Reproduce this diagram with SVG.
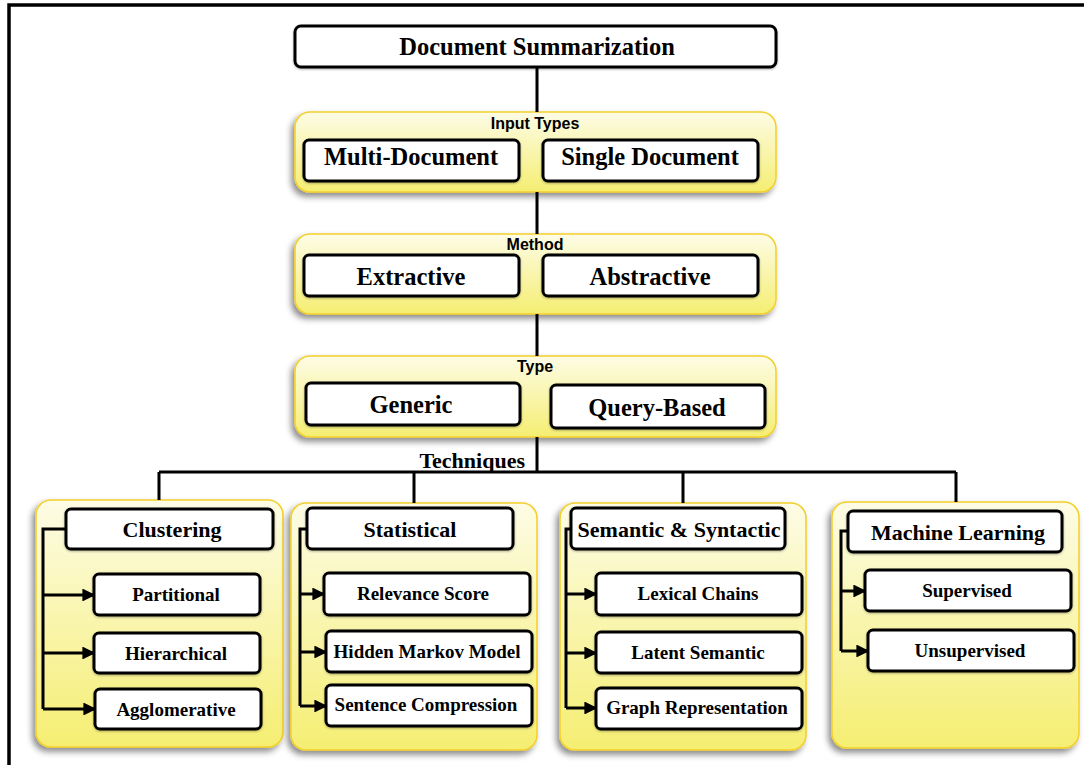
<svg xmlns="http://www.w3.org/2000/svg" width="1084" height="765" viewBox="0 0 1084 765">
<defs>
<linearGradient id="yg" x1="0" y1="0" x2="0" y2="1">
<stop offset="0" stop-color="#fdfce6"/>
<stop offset="1" stop-color="#f5ee72"/>
</linearGradient>
<filter id="sh" x="-10%" y="-10%" width="120%" height="125%">
<feDropShadow dx="-3" dy="4" stdDeviation="3" flood-color="#000" flood-opacity="0.45"/>
</filter>
<filter id="bs" x="-10%" y="-10%" width="120%" height="130%">
<feDropShadow dx="0" dy="1" stdDeviation="1" flood-color="#000" flood-opacity="0.3"/>
</filter>
<marker id="ar" viewBox="0 0 10 10" refX="9" refY="5" markerWidth="4.3" markerHeight="4.3" orient="auto" markerUnits="strokeWidth">
<path d="M0,0 L10,5 L0,10 z" fill="#000"/>
</marker>
</defs>
<style>
.panel{fill:url(#yg);stroke:#f3cf2a;stroke-width:1.5;filter:url(#sh)}
.box{fill:#fff;stroke:#000;stroke-width:3;filter:url(#bs)}
.t{font-family:"Liberation Serif",serif;font-weight:bold;fill:#000;text-anchor:middle}
.big{font-size:24.5px}
.hd{font-size:22px}
.sm{font-size:19px}
.lb{font-family:"Liberation Sans",Arial,sans-serif;font-weight:bold;font-size:16px;text-anchor:middle;fill:#000}
.ln{fill:none;stroke:#000;stroke-width:3}
.ar{fill:none;stroke:#000;stroke-width:3;marker-end:url(#ar)}
</style>
<rect width="1084" height="765" fill="#fff"/>
<path d="M9,765 V5 H1084" fill="none" stroke="#000" stroke-width="3.5"/>

<g id="root">
<rect class="box" x="295" y="26" width="481" height="41" rx="6"/>
<text class="t big" x="537" y="55">Document Summarization</text>
</g>

<g id="input-types">
<rect class="panel" x="295" y="112" width="481" height="80" rx="15"/>
<text class="lb" x="535" y="129">Input Types</text>
<g id="multi-document"><rect class="box" x="304" y="140" width="215" height="41" rx="5"/><text class="t big" x="411" y="165">Multi-Document</text></g>
<g id="single-document"><rect class="box" x="543" y="140" width="215" height="41" rx="5"/><text class="t big" x="650" y="165">Single Document</text></g>
</g>

<g id="method">
<rect class="panel" x="295" y="234" width="481" height="80" rx="15"/>
<text class="lb" x="535" y="250">Method</text>
<g id="extractive"><rect class="box" x="304" y="255" width="215" height="41" rx="5"/><text class="t big" x="411" y="285">Extractive</text></g>
<g id="abstractive"><rect class="box" x="543" y="255" width="215" height="41" rx="5"/><text class="t big" x="650" y="285">Abstractive</text></g>
</g>

<g id="type">
<rect class="panel" x="295" y="356" width="481" height="81" rx="15"/>
<text class="lb" x="535" y="372">Type</text>
<g id="generic"><rect class="box" x="306" y="383" width="214" height="42" rx="5"/><text class="t big" x="411" y="413">Generic</text></g>
<g id="query-based"><rect class="box" x="551" y="385" width="214" height="43" rx="5"/><text class="t big" x="657" y="416">Query-Based</text></g>
</g>

<g id="clustering">
<rect class="panel" x="36" y="500" width="247" height="247" rx="15"/>
<rect class="box" x="66" y="509" width="207" height="40" rx="5"/>
<text class="t hd" x="172" y="537">Clustering</text>
<g id="partitional"><rect class="box" x="94" y="574" width="166" height="41" rx="5"/><text class="t sm" x="176" y="601">Partitional</text></g>
<g id="hierarchical"><rect class="box" x="94" y="633" width="166" height="40" rx="5"/><text class="t sm" x="176" y="660">Hierarchical</text></g>
<g id="agglomerative"><rect class="box" x="95" y="689" width="166" height="40" rx="5"/><text class="t sm" x="176" y="716">Agglomerative</text></g>
</g>

<g id="statistical">
<rect class="panel" x="291" y="503" width="246" height="247" rx="15"/>
<rect class="box" x="307" y="508" width="206" height="41" rx="5"/>
<text class="t hd" x="410" y="537">Statistical</text>
<g id="relevance-score"><rect class="box" x="324" y="573" width="206" height="42" rx="5"/><text class="t sm" x="423" y="600">Relevance Score</text></g>
<g id="hidden-markov-model"><rect class="box" x="326" y="631" width="206" height="41" rx="5"/><text class="t sm" x="427" y="658">Hidden Markov Model</text></g>
<g id="sentence-compression"><rect class="box" x="326" y="685" width="206" height="41" rx="5"/><text class="t sm" x="426" y="711">Sentence Compression</text></g>
</g>

<g id="semantic-syntactic">
<rect class="panel" x="560" y="503" width="246" height="247" rx="15"/>
<rect class="box" x="571" y="508" width="214" height="41" rx="5"/>
<text class="t hd" x="679" y="537">Semantic &amp; Syntactic</text>
<g id="lexical-chains"><rect class="box" x="596" y="573" width="206" height="42" rx="5"/><text class="t sm" x="698" y="600">Lexical Chains</text></g>
<g id="latent-semantic"><rect class="box" x="596" y="632" width="206" height="41" rx="5"/><text class="t sm" x="698" y="659">Latent Semantic</text></g>
<g id="graph-representation"><rect class="box" x="596" y="688" width="206" height="41" rx="5"/><text class="t sm" x="697" y="714">Graph Representation</text></g>
</g>

<g id="machine-learning">
<rect class="panel" x="832" y="502" width="247" height="246" rx="15"/>
<rect class="box" x="848" y="511" width="214" height="41" rx="5"/>
<text class="t hd" x="958" y="540">Machine Learning</text>
<g id="supervised"><rect class="box" x="865" y="570" width="206" height="41" rx="5"/><text class="t sm" x="967" y="597">Supervised</text></g>
<g id="unsupervised"><rect class="box" x="868" y="630" width="206" height="41" rx="5"/><text class="t sm" x="970" y="657">Unsupervised</text></g>
</g>

<g id="connectors">
<path class="ln" d="M537,67 V112 M537,192 V234 M537,314 V356 M537,437 V472 M159,472 H956 M159,472 V500 M414,472 V503 M683,472 V503 M956,472 V502"/>
<path class="ln" d="M66,529 H43 V709"/>
<path class="ar" d="M43,595 H94"/>
<path class="ar" d="M43,653 H94"/>
<path class="ar" d="M43,709 H95"/>
<path class="ln" d="M307,529 H300 V706"/>
<path class="ar" d="M300,594 H324"/>
<path class="ar" d="M300,652 H326"/>
<path class="ar" d="M300,706 H326"/>
<path class="ln" d="M571,529 H566 V708"/>
<path class="ar" d="M566,594 H596"/>
<path class="ar" d="M566,653 H596"/>
<path class="ar" d="M566,708 H596"/>
<path class="ln" d="M848,531 H841 V651"/>
<path class="ar" d="M841,591 H865"/>
<path class="ar" d="M841,651 H868"/>
<text class="t hd" x="525" y="468" style="text-anchor:end">Techniques</text>
</g>
</svg>
